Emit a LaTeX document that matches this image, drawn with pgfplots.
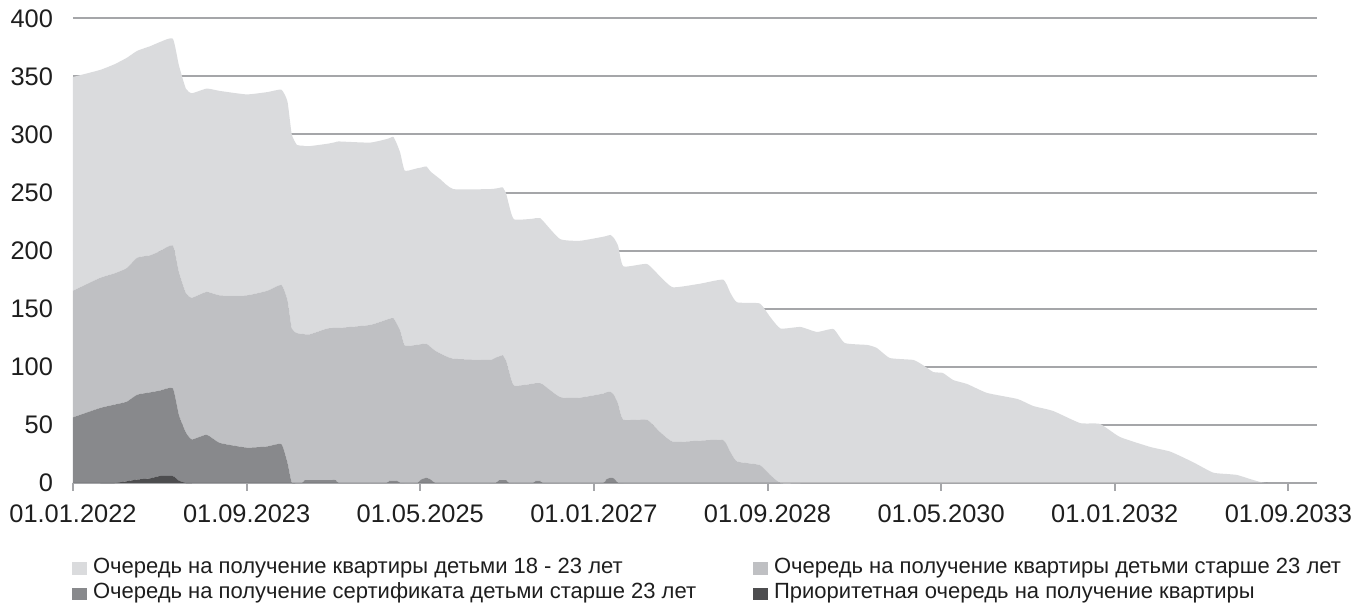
\documentclass[border=0pt]{standalone}
\usepackage{pgfplots}
\pgfplotsset{compat=1.18}
\usepackage{pgfplotstable}
\usepackage{fontspec}
\setmainfont{Liberation Sans}
\definecolor{cyoung}{HTML}{DADBDD}
\definecolor{colder}{HTML}{BFC0C3}
\definecolor{ccert}{HTML}{88898C}
\definecolor{cpri}{HTML}{4D4D4F}
\definecolor{cgrid}{HTML}{A5A6A9}
\definecolor{ctext}{HTML}{1E1E1E}

\pgfplotstableread{
m pri cert older young
0.0 0 56.5 109 184
3.1 0 64.5 112 179
4.8 0 67.5 113 180
6.2 1.5 68.5 115 181
7.4 3 73 118 178
8.9 4 74 118 180
10.0 6 73.5 120 180
11.5 6 75.5 123 178
12.2 2 56.5 123 178
13.0 0 43.5 120 176
13.7 0 37.5 122 176
15.4 0 41.5 123 175
16.9 0 34.5 127 176
20.0 0 30.5 131 173
22.4 0 31.5 134 171
24.0 0 33.5 137 168
24.7 0 17.5 140 171
25.2 0 0 133 167
25.8 0 0 129 162
26.4 0 0 128.5 162
26.7 0 2.5 125.5 162
27.3 0 2.5 125.5 162
29.3 0 2.5 130.5 159
30.3 0 2.5 131 160
30.6 0 0 133.5 160.5
34.2 0 0 136 157
36.1 0 0 140.5 155.5
36.5 0 2 139.5 155.5
36.9 0 2 140 156
37.3 0 2 135 155
37.7 0 0 131 153
38.2 0 0 118.5 150.5
39.2 0 0 118.5 151.5
39.7 0 0 119 152
40.1 0 3 116.5 152
40.7 0 4.5 115.5 152.5
41.2 0 3 114 151
41.7 0 0 114 151
42.3 0 0 111.5 150
43.8 0 0 107 146
48.0 0 0 106 147
48.7 0 0 108 145.5
49.1 0 2.5 106.5 145
49.5 0 2.5 107.5 144.5
49.9 0 2.5 102.5 144
50.2 0 0 97 143
50.8 0 0 84 143
53.0 0 0 85.5 142
53.3 0 2 84 142
53.8 0 2 84 142
54.1 0 0 85 141
56.1 0 0 74 136
58.4 0 0 73.5 135
61.1 0 0 77 135
61.4 0 3 75 134.5
61.9 0 4.5 74 135
62.3 0 4 72 135
62.8 0 0 68 136
63.4 0 0 54.5 132
66.1 0 0 54.5 134
67.6 0 0 44 134
69.1 0 0 35.5 133
72.2 0 0 36.5 135
74.9 0 0 37 138
75.7 0 0 27 137
76.5 0 0 18.5 137
79.1 0 0 15.5 139
80.3 0 0 7 136
81.5 0 0 0 133
83.8 0 0 0 134.3
85.7 0 0 0 130
87.6 0 0 0 132.5
88.9 0 0 0 120.5
91.5 0 0 0 118.8
92.6 0 0 0 116.2
94.1 0 0 0 107.6
96.8 0 0 0 105.9
97.9 0 0 0 101.5
99.1 0 0 0 95.5
100.2 0 0 0 94.7
101.4 0 0 0 88.6
103.0 0 0 0 85.2
105.3 0 0 0 77.5
108.8 0 0 0 72.3
110.6 0 0 0 66.3
112.9 0 0 0 62
116.0 0 0 0 51.6
118.3 0 0 0 50.8
120.6 0 0 0 39.6
124.1 0 0 0 31
126.4 0 0 0 27
129.0 0 0 0 18
131.3 0 0 0 9
133.0 0 0 0 7.7
134.1 0 0 0 6.9
135.6 0 0 0 3.4
136.7 0 0 0 1
137.6 0 0 0 0
}\data

\begin{document}
\begin{tikzpicture}
\useasboundingbox (-36.5pt,-62.5pt) rectangle (639.5pt,241.5pt);
\begin{axis}[
  at={(0,0)}, anchor=south west,
  scale only axis, width=622pt, height=232.35pt,
  xmin=0, xmax=143.3, ymin=0, ymax=400,
  stack plots=y,
  clip=false,
  axis line style={draw=none},
  ymajorgrids, grid style={cgrid, line width=1pt},
  ytick={0,50,...,400},
  xtick={0,20,...,140},
  xticklabels={01.01.2022,01.09.2023,01.05.2025,01.01.2027,01.09.2028,01.05.2030,01.01.2032,01.09.2033},
  tick align=outside,
  xtick pos=bottom,
  major tick length=4pt,
  xtick style={cgrid, line width=1pt},
  ytick style={draw=none},
  ticklabel style={font=\fontsize{12.7}{15}\selectfont, text=ctext},
  /pgf/number format/assume math mode=true,
  xticklabel style={yshift=-3.5pt},
  yticklabel style={xshift=-2.5pt},
  legend columns=2, reverse legend,
  legend cell align=left,
  legend style={
    at={(axis description cs:-0.0008,-0.160)}, anchor=north west,
    draw=none, fill=none, inner sep=0pt, outer sep=0pt,
    font=\fontsize{11}{13}\selectfont, text=ctext,
    nodes={inner sep=0pt, text height=8pt, text depth=2.5pt},
    row sep=2.25pt,
    /tikz/every odd column/.append style={column sep=3pt},
    /tikz/every even column/.append style={column sep=0pt},
  },
  legend image code/.code={\fill[#1] (0pt,-3.5pt) rectangle (7.5pt,2.7pt);},
]
\addplot[fill=cpri, draw=none, smooth, tension=0.3] table[x=m, y=pri]{\data} \closedcycle;
\addlegendentry{Приоритетная очередь на получение квартиры}
\addplot[fill=ccert, draw=none, smooth, tension=0.3] table[x=m, y=cert]{\data} \closedcycle;
\addlegendentry{\makebox[330pt][l]{Очередь на получение сертификата детьми старше 23 лет}}
\addplot[fill=colder, draw=none, smooth, tension=0.3] table[x=m, y=older]{\data} \closedcycle;
\addlegendentry{Очередь на получение квартиры детьми старше 23 лет}
\addplot[fill=cyoung, draw=none, smooth, tension=0.3] table[x=m, y=young]{\data} \closedcycle;
\addlegendentry{\makebox[330pt][l]{Очередь на получение квартиры детьми 18 - 23 лет}}
\draw[cgrid, line width=1.3pt] (axis cs:0,0) -- (axis cs:143.3,0);
\end{axis}
\end{tikzpicture}
\end{document}
